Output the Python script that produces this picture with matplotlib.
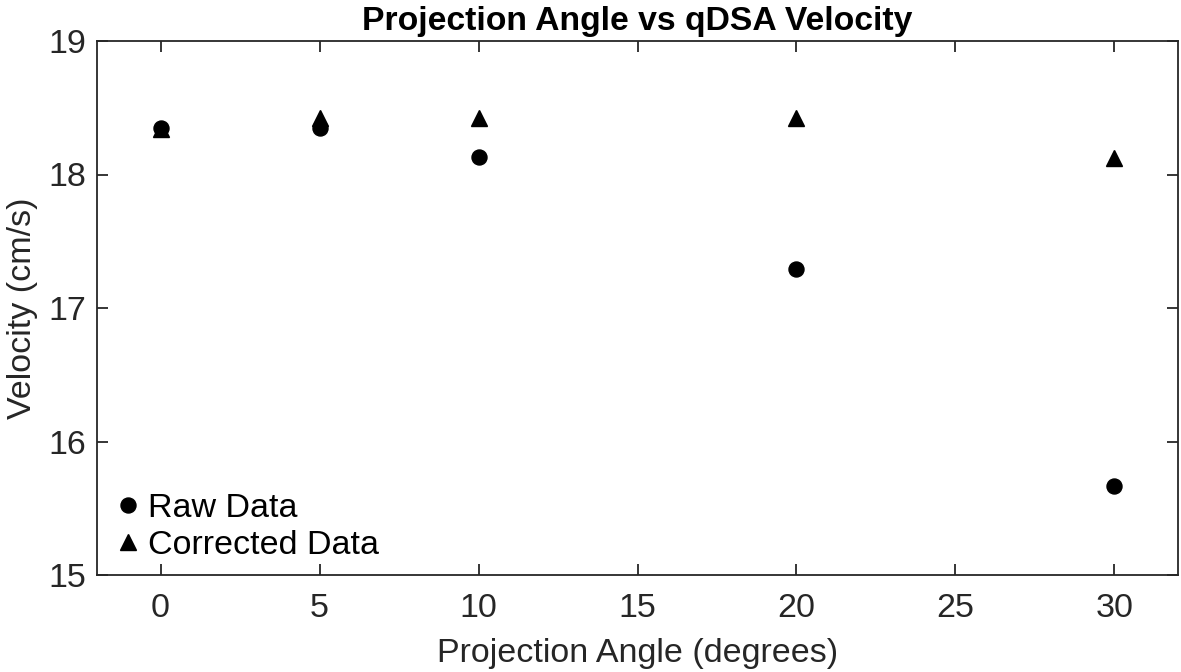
import matplotlib
matplotlib.use("Agg")
import matplotlib.pyplot as plt

plt.rcParams['font.family'] = ['Liberation Sans', 'DejaVu Sans']

angles = [0, 5, 10, 20, 30]
raw_velocity = [18.35, 18.35, 18.13, 17.29, 15.67]
corrected_velocity = [18.34, 18.42, 18.42, 18.42, 18.12]

fig = plt.figure(figsize=(11.81, 6.72), dpi=100)
ax = fig.add_axes([97/1181, 1 - 575/672, (1178 - 97)/1181, (575 - 41)/672])

ax.plot(angles, raw_velocity, linestyle='none', marker='o', color='black',
        markersize=10.8, label='Raw Data')
ax.plot(angles, corrected_velocity, linestyle='none', marker='^', color='black',
        markersize=11.5, label='Corrected Data')

ax.set_xlim(-2, 32)
ax.set_ylim(15, 19)
ax.set_xticks([0, 5, 10, 15, 20, 25, 30])
ax.set_yticks([15, 16, 17, 18, 19])
ax.tick_params(direction='in', top=True, right=True, length=8, width=1.3,
               labelsize=24.5, colors='#262626')
ax.tick_params(axis='x', pad=13)
ax.tick_params(axis='y', pad=8)
for s in ax.spines.values():
    s.set_linewidth(1.3)
    s.set_color('#262626')

ax.set_xlabel('Projection Angle (degrees)', fontsize=24.5, color='#262626', labelpad=10)
ax.set_ylabel('Velocity (cm/s)', fontsize=24.5, color='#262626', labelpad=7)
ax.set_title('Projection Angle vs qDSA Velocity', fontsize=24.3, fontweight='bold', pad=8)

ax.legend(loc='lower left', frameon=False, fontsize=24.5, handletextpad=0.1,
          borderaxespad=0, labelspacing=0.2, handlelength=1.0,
          bbox_to_anchor=(0.0, 0.0))

fig.savefig('out.png', dpi=100)
